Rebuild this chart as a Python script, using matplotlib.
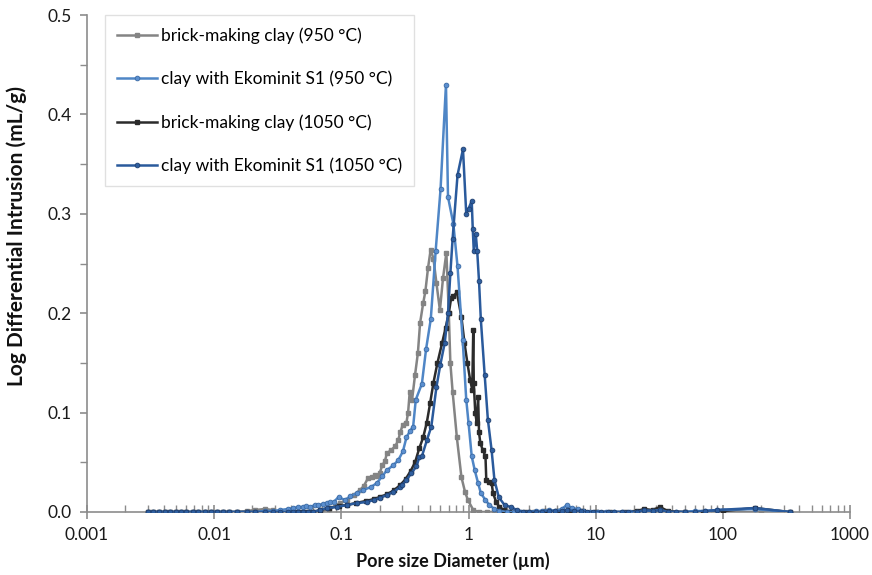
import matplotlib
matplotlib.use("Agg")
import matplotlib.pyplot as plt
from matplotlib.ticker import LogLocator, FixedLocator, FuncFormatter, NullFormatter

plt.rcParams['font.family'] = ['Lato', 'DejaVu Sans']

# ---------------- data ----------------
low_x = [0.003, 0.0033, 0.0037, 0.0041, 0.0045, 0.005, 0.0055, 0.006, 0.0068, 0.0075,
         0.0085, 0.0095, 0.0105, 0.0118, 0.013, 0.015, 0.018, 0.021, 0.025, 0.029,
         0.033, 0.038]

# brick-making clay (950 °C)
brick950_x = low_x + [0.042, 0.046, 0.05, 0.055, 0.06, 0.068, 0.08, 0.098, 0.11, 0.125,
                      0.14, 0.15, 0.162, 0.175, 0.184, 0.19, 0.2, 0.21, 0.22, 0.228,
                      0.245, 0.265, 0.28, 0.29, 0.305, 0.325, 0.335, 0.345, 0.36, 0.38,
                      0.4, 0.416, 0.44, 0.458, 0.48, 0.504, 0.53, 0.56, 0.596, 0.63,
                      0.67, 0.7, 0.72, 0.75, 0.81, 0.88, 0.94, 0.99, 1.09, 1.2,
                      1.4, 1.6, 2.0, 2.5, 3.0, 4.0, 6.0, 10.0, 20.0, 50.0, 100.0, 200.0, 340.0]
brick950_y = [0, 0, 0, 0, 0, 0, 0, 0, 0, 0,
              0, 0, 0, 0, 0, 0, 0.001, 0.002, 0.003, 0.002,
              0, 0] + \
             [0, 0, 0, 0, 0, 0, 0.003, 0.009, 0.012, 0.017,
              0.022, 0.026, 0.034, 0.035, 0.037, 0.036, 0.039, 0.047, 0.051, 0.059,
              0.062, 0.066, 0.072, 0.080, 0.088, 0.090, 0.100, 0.121, 0.113, 0.138,
              0.160, 0.190, 0.210, 0.222, 0.245, 0.264, 0.255, 0.230, 0.203, 0.235,
              0.261, 0.200, 0.150, 0.121, 0.075, 0.035, 0.020, 0.012, 0.002, 0,
              0, 0, 0, 0, 0, 0, 0, 0, 0, 0, 0, 0, 0]

# clay with Ekominit S1 (950 °C)
eko950_x = low_x + [0.042, 0.046, 0.05, 0.053, 0.057, 0.062, 0.066, 0.072, 0.077, 0.082,
                    0.087, 0.095, 0.107, 0.118, 0.133, 0.148, 0.17, 0.19, 0.21, 0.228,
                    0.256, 0.28, 0.305, 0.325, 0.345, 0.367, 0.385, 0.43, 0.464, 0.505,
                    0.552, 0.603, 0.665, 0.69, 0.76, 0.82, 0.9, 0.96, 1.0, 1.06,
                    1.12, 1.19, 1.25, 1.36, 1.46, 1.6, 1.75, 2.0, 2.3, 2.6,
                    3.0, 3.4, 3.8, 4.3, 4.8, 5.4, 5.94, 6.5, 7.2, 8.0,
                    9.0, 10.5, 12.0, 14.0, 16.0, 18.5, 21.0, 24.0, 28.0, 32.0,
                    37.0, 43.0, 50.0, 60.0, 72.0, 90.0, 178.0, 335.0]
eko950_y = [0, 0, 0, 0, 0, 0, 0, 0, 0, 0,
            0, 0, 0, 0, 0, 0, 0, 0, 0.001, 0.001,
            0.002, 0.003] + \
           [0.004, 0.005, 0.005, 0.006, 0.005, 0.007, 0.007, 0.008, 0.009, 0.010,
            0.010, 0.015, 0.012, 0.016, 0.019, 0.022, 0.025, 0.029, 0.036, 0.042,
            0.047, 0.052, 0.061, 0.075, 0.081, 0.086, 0.113, 0.129, 0.164, 0.194,
            0.263, 0.325, 0.430, 0.317, 0.290, 0.247, 0.173, 0.113, 0.090, 0.056,
            0.042, 0.029, 0.019, 0.012, 0.007, 0.003, 0.001, 0, 0, 0,
            0, 0.001, 0.001, 0.002, 0.001, 0.003, 0.007, 0.004, 0.003, 0.001,
            0, 0, 0, 0, 0, 0, 0, 0.001, 0.001, 0.002,
            0, 0, 0, 0.001, 0.001, 0.002, 0.003, 0]

# brick-making clay (1050 °C)
brick1050_x = low_x + [0.042, 0.046, 0.05, 0.055, 0.06, 0.068, 0.08, 0.095, 0.11, 0.13,
                       0.155, 0.18, 0.2, 0.23, 0.26, 0.29, 0.32, 0.35, 0.38, 0.41,
                       0.44, 0.47, 0.5, 0.53, 0.57, 0.62, 0.66, 0.7, 0.73, 0.76,
                       0.81, 0.88, 0.93, 0.98, 1.03, 1.07, 1.09, 1.1, 1.13, 1.16,
                       1.19, 1.21, 1.24, 1.3, 1.36, 1.38, 1.45, 1.52, 1.56, 1.65,
                       1.75, 1.9, 2.1, 2.4, 2.8, 3.3, 4.0, 5.0, 6.3, 8.0,
                       10.0, 13.0, 17.0, 21.0, 24.0, 28.0, 32.0, 37.0, 50.0, 70.0,
                       100.0, 178.0, 335.0]
brick1050_y = [0] * 22 + \
              [0, 0, 0, 0, 0, 0.002, 0.004, 0.006, 0.007, 0.009,
               0.011, 0.013, 0.015, 0.018, 0.022, 0.027, 0.033, 0.041, 0.050, 0.064,
               0.075, 0.090, 0.110, 0.130, 0.150, 0.170, 0.185, 0.200, 0.215, 0.217,
               0.221, 0.196, 0.170, 0.150, 0.133, 0.123, 0.183, 0.130, 0.100, 0.090,
               0.116, 0.080, 0.069, 0.062, 0.056, 0.032, 0.030, 0.029, 0.019, 0.010,
               0.005, 0.002, 0, 0, 0, 0, 0.001, 0.001, 0.002, 0.001,
               0, 0, 0, 0.001, 0.003, 0.002, 0.005, 0.001, 0, 0,
               0.001, 0.004, 0]

# clay with Ekominit S1 (1050 °C)
eko1050_x = low_x + [0.042, 0.046, 0.05, 0.055, 0.06, 0.068, 0.077, 0.092, 0.11, 0.133,
                     0.158, 0.18, 0.2, 0.228, 0.256, 0.29, 0.3, 0.325, 0.355, 0.39,
                     0.41, 0.43, 0.47, 0.51, 0.56, 0.6, 0.65, 0.69, 0.72, 0.75,
                     0.82, 0.905, 0.96, 1.0, 1.06, 1.08, 1.1, 1.14, 1.17, 1.21,
                     1.25, 1.34, 1.42, 1.52, 1.6, 1.73, 1.92, 2.15, 2.4, 2.7,
                     3.0, 3.4, 3.8, 4.3, 4.8, 5.4, 6.0, 6.8, 7.6, 8.5,
                     9.5, 11.0, 12.5, 14.0, 16.0, 18.0, 21.0, 24.0, 28.0, 32.0,
                     37.0, 43.0, 50.0, 60.0, 72.0, 90.0, 178.0, 335.0]
eko1050_y = [0] * 22 + \
            [0, 0, 0, 0, 0, 0.002, 0.004, 0.005, 0.007, 0.009,
             0.010, 0.012, 0.014, 0.017, 0.020, 0.025, 0.027, 0.032, 0.039, 0.046,
             0.055, 0.056, 0.072, 0.086, 0.126, 0.148, 0.170, 0.200, 0.240, 0.275,
             0.339, 0.365, 0.300, 0.305, 0.313, 0.285, 0.263, 0.280, 0.263, 0.232,
             0.194, 0.138, 0.093, 0.062, 0.032, 0.015, 0.007, 0.005, 0.002, 0,
             0, 0, 0, 0.001, 0.001, 0.001, 0.002, 0.001, 0.001, 0,
             0, 0, 0, 0, 0, 0, 0, 0.002, 0.001, 0.002,
             0, 0, 0, 0, 0.001, 0.002, 0.004, 0]

labels = ['brick-making clay (950 °C)', 'clay with Ekominit S1 (950 °C)',
          'brick-making clay (1050 °C)', 'clay with Ekominit S1 (1050 °C)']

x_ticks = [0.001, 0.01, 0.1, 1, 10, 100, 1000]
x_ticklabels = ['0.001', '0.01', '0.1', '1', '10', '100', '1000']
y_ticks = [0.0, 0.1, 0.2, 0.3, 0.4, 0.5]

# ---------------- plot ----------------
W, H = 872, 575
fig = plt.figure(figsize=(W / 100, H / 100), dpi=100)
ax = fig.add_axes([87 / W, 1 - 512 / H, (850 - 87) / W, (512 - 15) / H])

axis_gray = '#8c8c8c'
ax.plot(brick950_x, brick950_y, color='#848484', lw=1.8, marker='s', ms=2.6,
        mfc='#848484', mec='#848484', label=labels[0], zorder=3)
ax.plot(eko950_x, eko950_y, color='#4f86c6', lw=1.8, marker='o', ms=3.4,
        mfc='#5b8fcf', mec='#3a6aa5', mew=0.6, label=labels[1], zorder=4)
ax.plot(brick1050_x, brick1050_y, color='#2b2b2b', lw=1.8, marker='s', ms=2.6,
        mfc='#2b2b2b', mec='#2b2b2b', label=labels[2], zorder=3)
ax.plot(eko1050_x, eko1050_y, color='#2a5a9c', lw=1.8, marker='o', ms=3.4,
        mfc='#2f5f9f', mec='#1f3f70', mew=0.6, label=labels[3], zorder=5)

ax.set_xscale('log')
ax.set_xlim(0.001, 1000)
ax.set_ylim(0, 0.5)

ax.xaxis.set_major_locator(FixedLocator(x_ticks))
ax.set_xticklabels(x_ticklabels)
ax.xaxis.set_minor_locator(LogLocator(base=10, subs=[2, 3, 4, 5, 6, 7, 8, 9], numticks=20))
ax.xaxis.set_minor_formatter(NullFormatter())
ax.set_yticks(y_ticks)
ax.yaxis.set_major_formatter(FuncFormatter(lambda v, p: f'{v:.1f}'))
ax.set_yticks([0.05, 0.15, 0.25, 0.35, 0.45], minor=True)

for s in ['top', 'right']:
    ax.spines[s].set_visible(False)
for s in ['left', 'bottom']:
    ax.spines[s].set_color(axis_gray)
    ax.spines[s].set_linewidth(1.2)

ax.tick_params(axis='x', which='major', direction='inout', length=10, width=1.2,
               color=axis_gray, labelsize=12.5, pad=6, labelcolor='#1a1a1a')
ax.tick_params(axis='x', which='minor', direction='in', length=5, width=1.0, color=axis_gray)
ax.tick_params(axis='y', which='major', direction='out', length=5, width=1.2,
               color=axis_gray, labelsize=12.5, pad=6, labelcolor='#1a1a1a')
ax.tick_params(axis='y', which='minor', direction='out', length=5, width=1.0, color=axis_gray)

fig.text(453 / W, 1 - 561 / H, 'Pore size Diameter (µm)', fontsize=13, fontweight='bold',
         ha='center', va='center', color='#111111')
fig.text(17 / W, 1 - 236 / H, 'Log Differential Intrusion (mL/g)', fontsize=15,
         fontweight='bold', rotation=90, ha='center', va='center', color='#111111')

leg = ax.legend(loc='upper left', bbox_to_anchor=(105 / W, 1 - 15 / H),
                bbox_transform=fig.transFigure, fontsize=12.5, frameon=True,
                fancybox=False, edgecolor='#d9d9d9', borderaxespad=0,
                labelspacing=1.55, handlelength=2.3, handletextpad=0.2, borderpad=0.7)
leg.get_frame().set_linewidth(1.0)

fig.savefig('out.png', dpi=100)
